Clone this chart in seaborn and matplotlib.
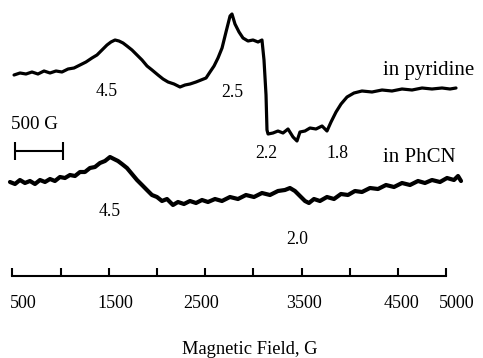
import numpy as np
import pandas as pd
import matplotlib
matplotlib.use("Agg")
import matplotlib.pyplot as plt
from matplotlib.transforms import ScaledTranslation
import seaborn as sns

# ---------------- data ----------------
pyr_field = [517, 579, 641, 703, 765, 828, 890, 952, 1014, 1077, 1139, 1201, 1263, 1325,
             1377, 1429, 1481, 1522, 1564, 1605, 1647, 1688, 1740, 1792, 1844, 1896, 1948,
             2010, 2062, 2114, 2176, 2238, 2290, 2342, 2404, 2456, 2508, 2549, 2591, 2632,
             2674, 2715, 2757, 2777, 2808, 2850, 2891, 2943, 2995, 3047, 3088, 3109, 3130,
             3140, 3151, 3202, 3254, 3306, 3358, 3410, 3451, 3482, 3534, 3586, 3648, 3711,
             3762, 3804, 3856, 3908, 3970, 4042, 4125, 4229, 4333, 4436, 4540, 4644, 4748,
             4851, 4955, 5038, 5100]
pyr_signal = [201, 203, 202, 204, 202, 205, 203, 205, 204, 207, 208, 211, 214, 218,
              221, 226, 231, 234, 236, 235, 233, 230, 226, 221, 216, 210, 206,
              201, 197, 194, 192, 189, 191, 192, 194, 196, 198, 204, 210, 218,
              228, 244, 260, 262, 252, 244, 238, 235, 236, 234, 236, 216, 181,
              146, 142, 143, 145, 143, 147, 139, 135, 144, 145, 148, 147, 150,
              145, 154, 164, 172, 179, 183, 185, 184, 186, 185, 187, 186, 188,
              187, 188, 187, 188]

phcn_field = [475, 527, 578, 630, 682, 734, 786, 838, 890, 941, 993, 1045, 1097, 1149,
              1201, 1252, 1304, 1356, 1408, 1460, 1512, 1553, 1595, 1636, 1688, 1740,
              1792, 1844, 1895, 1947, 1999, 2051, 2103, 2165, 2217, 2279, 2341, 2404,
              2466, 2528, 2601, 2673, 2756, 2839, 2922, 3005, 3088, 3171, 3254, 3326,
              3378, 3430, 3482, 3534, 3575, 3627, 3689, 3762, 3835, 3907, 3980, 4052,
              4125, 4208, 4291, 4374, 4457, 4540, 4623, 4706, 4778, 4851, 4934, 5007,
              5079, 5121, 5152]
phcn_signal = [94, 92, 96, 93, 95, 92, 96, 94, 97, 95, 99, 98, 101, 100,
               104, 104, 108, 109, 113, 115, 119, 117, 115, 112, 108, 102,
               96, 91, 86, 81, 79, 75, 77, 71, 74, 72, 75, 73,
               76, 74, 77, 75, 79, 77, 81, 79, 83, 81, 85, 86,
               88, 85, 80, 75, 73, 77, 75, 79, 77, 82, 81, 85,
               84, 88, 87, 91, 89, 93, 91, 95, 93, 96, 94, 98,
               96, 100, 95]

tick_values = [500, 1000, 1500, 2000, 2500, 3000, 3500, 4000, 4500, 5000]
tick_labels = ["500", "", "1500", "", "2500", "", "3500", "", "4500", "5000"]
tick_label_shift_px = [11, 0, 7, 0, -4, 0, 2, 0, 3, 10]

g_labels = ["4.5", "2.5", "2.2", "1.8", "4.5", "2.0"]
g_label_field = [1481, 2777, 3135, 3871, 1512, 3451]
g_label_signal = [180, 179, 118, 118, 60, 32]

trace_names = ["in pyridine", "in PhCN"]
trace_name_field = [4343, 4343]
trace_name_signal = [201, 114]

scale_bar_field = [525, 1025]
scale_bar_signal = 125
scale_bar_text = "500 G"

# ---------------- figure ----------------
sns.set_theme(style="white")
plt.rcParams["font.family"] = ["Liberation Serif", "DejaVu Serif"]
plt.rcParams["axes.linewidth"] = 1.5

fig = plt.figure(figsize=(4.83, 3.58), dpi=100)
ax = fig.add_axes([0, 82 / 358, 1, 276 / 358])

pyr = pd.DataFrame({"field": pyr_field, "signal": pyr_signal})
phcn = pd.DataFrame({"field": phcn_field, "signal": phcn_signal})
sns.lineplot(data=pyr, x="field", y="signal", ax=ax, color="black", lw=2.3,
             sort=False, estimator=None)
sns.lineplot(data=phcn, x="field", y="signal", ax=ax, color="black", lw=3.0,
             sort=False, estimator=None)

ax.set_xlim(371.4, 5380)
ax.set_ylim(0, 276)
ax.set_facecolor("white")
ax.set_ylabel("")

for s in ["top", "left", "right"]:
    ax.spines[s].set_visible(False)
ax.spines["bottom"].set_bounds(500, 5000)
ax.spines["bottom"].set_color("black")
ax.set_yticks([])

ax.set_xticks(tick_values, tick_labels)
ax.set_xticks([500, 5000], minor=True)
ax.tick_params(axis="x", which="major", direction="in", length=6, width=1.5,
               color="black", labelsize=13, pad=14, bottom=True, labelcolor="black")
ax.tick_params(axis="x", which="minor", direction="out", length=6, width=1.5,
               color="black", bottom=True)
for lab, dx in zip(ax.get_xticklabels(), tick_label_shift_px):
    lab.set_transform(lab.get_transform() + ScaledTranslation(dx / 100, 0, fig.dpi_scale_trans))

ax.set_xlabel("Magnetic Field, G", fontsize=13.3, color="black")
ax.xaxis.set_label_coords(250 / 483, -65 / 276)

for t, x, y in zip(g_labels, g_label_field, g_label_signal):
    ax.text(x, y, t, ha="center", va="baseline", fontsize=12.7, color="black")
for t, x, y in zip(trace_names, trace_name_field, trace_name_signal):
    ax.text(x, y, t, ha="left", va="baseline", fontsize=15, color="black")

# scale bar
ax.hlines(scale_bar_signal, scale_bar_field[0], scale_bar_field[1], color="black", lw=1.5)
ax.vlines(scale_bar_field, scale_bar_signal - 9, scale_bar_signal + 9, color="black", lw=1.5)
ax.text(490, 147, scale_bar_text, ha="left", va="baseline", fontsize=13.7, color="black")

fig.savefig("out.png", dpi=100, facecolor="white")
